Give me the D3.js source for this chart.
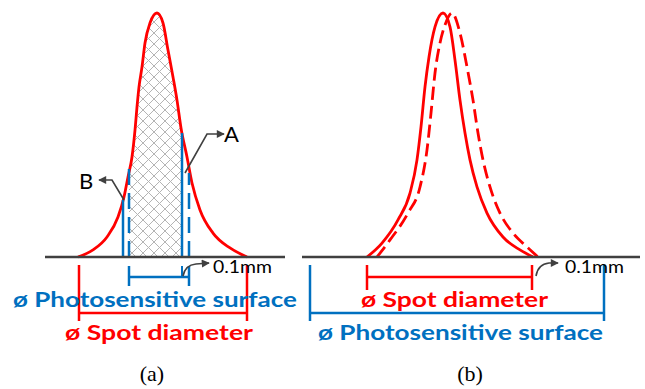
<!DOCTYPE html>
<html>
<head>
<meta charset="utf-8">
<script src="https://cdn.jsdelivr.net/npm/d3@7"></script>
<style>
  body { margin: 0; background: #fff; }
  text { font-family: Lato, "Open Sans", sans-serif; }
  text.cap { font-family: "Liberation Serif", "DejaVu Serif", serif; }
</style>
</head>
<body>
<div id="chart"></div>
<script>
// profile (a): offset from peak, relative intensity
const profileAX = [-79, -64, -50, -39, -33, -29, -25, -22, -20, -18, -15, -12, -7, 0,
                   6, 11, 16, 20, 24, 30, 35, 43, 56, 73, 90];
const profileAI = [0, 0.029, 0.082, 0.164, 0.246, 0.328, 0.41, 0.52, 0.615, 0.697, 0.779, 0.877, 0.959, 1,
                   0.959, 0.848, 0.738, 0.643, 0.529, 0.41, 0.303, 0.193, 0.098, 0.037, 0];

// profile (b): solid and shifted (dashed) spot
const solidBX = [-76, -61, -45, -33, -26, -22, -18, -14, -8, 0, 7, 12, 17, 22, 27, 34, 44, 60, 77, 90];
const solidBI = [0, 0.057, 0.152, 0.262, 0.398, 0.533, 0.697, 0.82, 0.943, 1,
                 0.943, 0.807, 0.643, 0.508, 0.398, 0.287, 0.18, 0.082, 0.029, 0];
const dashBX = [-66, -53, -35, -23, -16, -12, -8, -3, 2, 9, 17, 24, 30, 35, 40, 47, 57, 70, 84, 95];
const dashBI = [0, 0.07, 0.18, 0.287, 0.439, 0.59, 0.754, 0.877, 0.951, 1,
                0.918, 0.779, 0.643, 0.508, 0.398, 0.287, 0.18, 0.098, 0.041, 0];

// blue photosensitive edges in (a): [offset, top intensity, dashed?]
const edgesA = [[-34, 0.234, false], [-28, 0.365, true], [25, 0.508, false], [32, 0.344, true]];

const labels = {
  photo: "ø Photosensitive surface",
  spot: "ø Spot diameter",
  gap: "0.1mm"
};

const width = 645, height = 389;
const red = "#ff0000", blue = "#0070c0", grey = "#404040";

const svg = d3.select("#chart").append("svg")
  .attr("width", width)
  .attr("height", height);

const defs = svg.append("defs");

// arrow head for the call-outs
defs.append("marker")
  .attr("id", "arrow")
  .attr("viewBox", "0 0 10 10")
  .attr("refX", 9).attr("refY", 5)
  .attr("markerWidth", 9).attr("markerHeight", 8)
  .attr("markerUnits", "userSpaceOnUse")
  .attr("orient", "auto")
  .append("path")
  .attr("d", "M0,0 L10,5 L0,10 Z")
  .attr("fill", grey);

// cross hatch
const pat = defs.append("pattern")
  .attr("id", "hatch")
  .attr("patternUnits", "userSpaceOnUse")
  .attr("width", 11).attr("height", 11);
pat.append("path")
  .attr("d", "M0,0 L11,11 M11,0 L0,11")
  .attr("stroke", "#b4b4b4")
  .attr("stroke-width", 1);

const y = d3.scaleLinear().domain([0, 1]).range([257, 13]);
const xA = d3.scaleLinear().domain([-150, 150]).range([7, 307]);
const xB = d3.scaleLinear().domain([-150, 150]).range([293, 593]);

const zip = (xs, is) => xs.map((v, i) => [v, is[i]]);

function drawLine(g, pts, x, dashed) {
  const line = d3.line().x(d => x(d[0])).y(d => y(d[1])).curve(d3.curveMonotoneX);
  g.append("path")
    .attr("d", line(pts))
    .attr("fill", "none")
    .attr("stroke", red)
    .attr("stroke-width", 2.8)
    .attr("stroke-dasharray", dashed ? "13,6" : null);
}

function seg(g, x1, y1, x2, y2, color, w, dash) {
  g.append("line")
    .attr("x1", x1).attr("y1", y1).attr("x2", x2).attr("y2", y2)
    .attr("stroke", color).attr("stroke-width", w)
    .attr("stroke-dasharray", dash || null);
}

function bracket(g, x1, x2, yTop, yBar, yBot, color) {
  seg(g, x1, yTop, x1, yBot, color, 2.5);
  seg(g, x2, yTop, x2, yBot, color, 2.5);
  seg(g, x1, yBar, x2, yBar, color, 2.5);
}

function label(g, txt, x1, x2, yb, color) {
  g.append("text")
    .attr("x", x1).attr("y", yb)
    .attr("textLength", x2 - x1)
    .attr("lengthAdjust", "spacingAndGlyphs")
    .attr("font-size", 21)
    .attr("font-weight", "bold")
    .attr("fill", color)
    .text(txt);
}

function callout(g, d, color) {
  g.append("path")
    .attr("d", d)
    .attr("fill", "none")
    .attr("stroke", color || grey)
    .attr("stroke-width", 1.6)
    .attr("marker-end", "url(#arrow)");
}

// ---------- panel (a) ----------
const ga = svg.append("g");
const ptsA = zip(profileAX, profileAI);

defs.append("clipPath").attr("id", "clipA")
  .append("rect")
  .attr("x", xA(-28)).attr("y", 0)
  .attr("width", xA(25) - xA(-28)).attr("height", y(0));

const area = d3.area().x(d => xA(d[0])).y0(y(0)).y1(d => y(d[1])).curve(d3.curveMonotoneX);
ga.append("path")
  .attr("d", area(ptsA))
  .attr("fill", "url(#hatch)")
  .attr("clip-path", "url(#clipA)");

drawLine(ga, ptsA, xA, false);

edgesA.forEach(e => {
  seg(ga, xA(e[0]), y(0), xA(e[0]), y(e[1]), blue, 2.5, e[2] ? "16,8" : null);
});

seg(ga, xA(-112), y(0), xA(128), y(0), grey, 2.6);

// brackets below the axis
bracket(ga, xA(-28), xA(32), 266, 277, 286, blue);
seg(ga, xA(25), 266, xA(25), 277, blue, 2);
bracket(ga, xA(-78), xA(90), 265, 313, 321, red);

label(ga, labels.photo, 13, 297, 307, blue);
label(ga, labels.spot, 65, 253, 340, red);

// call-outs A, B and gap
callout(ga, `M${xA(28)},173 L207,134 L224,134`);
ga.append("text").attr("x", 224).attr("y", 142).attr("font-size", 22).attr("fill", "#000").text("A");
callout(ga, `M${xA(-33)},200 L112,180 L99,180`);
ga.append("text").attr("x", 79).attr("y", 189).attr("font-size", 22).attr("fill", "#000").text("B");
callout(ga, `M${xA(26)},276 Q185,265 196,264 L209,263`);
ga.append("text").attr("x", 213).attr("y", 273).attr("font-size", 18).attr("fill", "#000")
  .attr("textLength", 59).attr("lengthAdjust", "spacingAndGlyphs").text(labels.gap);

ga.append("text")
  .attr("class", "cap")
  .attr("x", 152).attr("y", 381)
  .attr("text-anchor", "middle")
  .attr("font-size", 22)
  .text("(a)");

// ---------- panel (b) ----------
const gb = svg.append("g");
drawLine(gb, zip(solidBX, solidBI), xB, false);
drawLine(gb, zip(dashBX, dashBI), xB, true);

seg(gb, xB(-141), y(0), xB(197), y(0), grey, 2.6);

bracket(gb, xB(-76), xB(89), 265, 277, 290, red);
bracket(gb, xB(-133), xB(161), 265, 313, 321, blue);

label(gb, labels.spot, 361, 548, 307, red);
label(gb, labels.photo, 318, 603, 340, blue);

callout(gb, `M${xB(93)},276 Q538,264 549,263 L558,263`);
gb.append("text").attr("x", 565).attr("y", 273).attr("font-size", 18).attr("fill", "#000")
  .attr("textLength", 59).attr("lengthAdjust", "spacingAndGlyphs").text(labels.gap);

gb.append("text")
  .attr("class", "cap")
  .attr("x", 470).attr("y", 381)
  .attr("text-anchor", "middle")
  .attr("font-size", 22)
  .text("(b)");
</script>
</body>
</html>
